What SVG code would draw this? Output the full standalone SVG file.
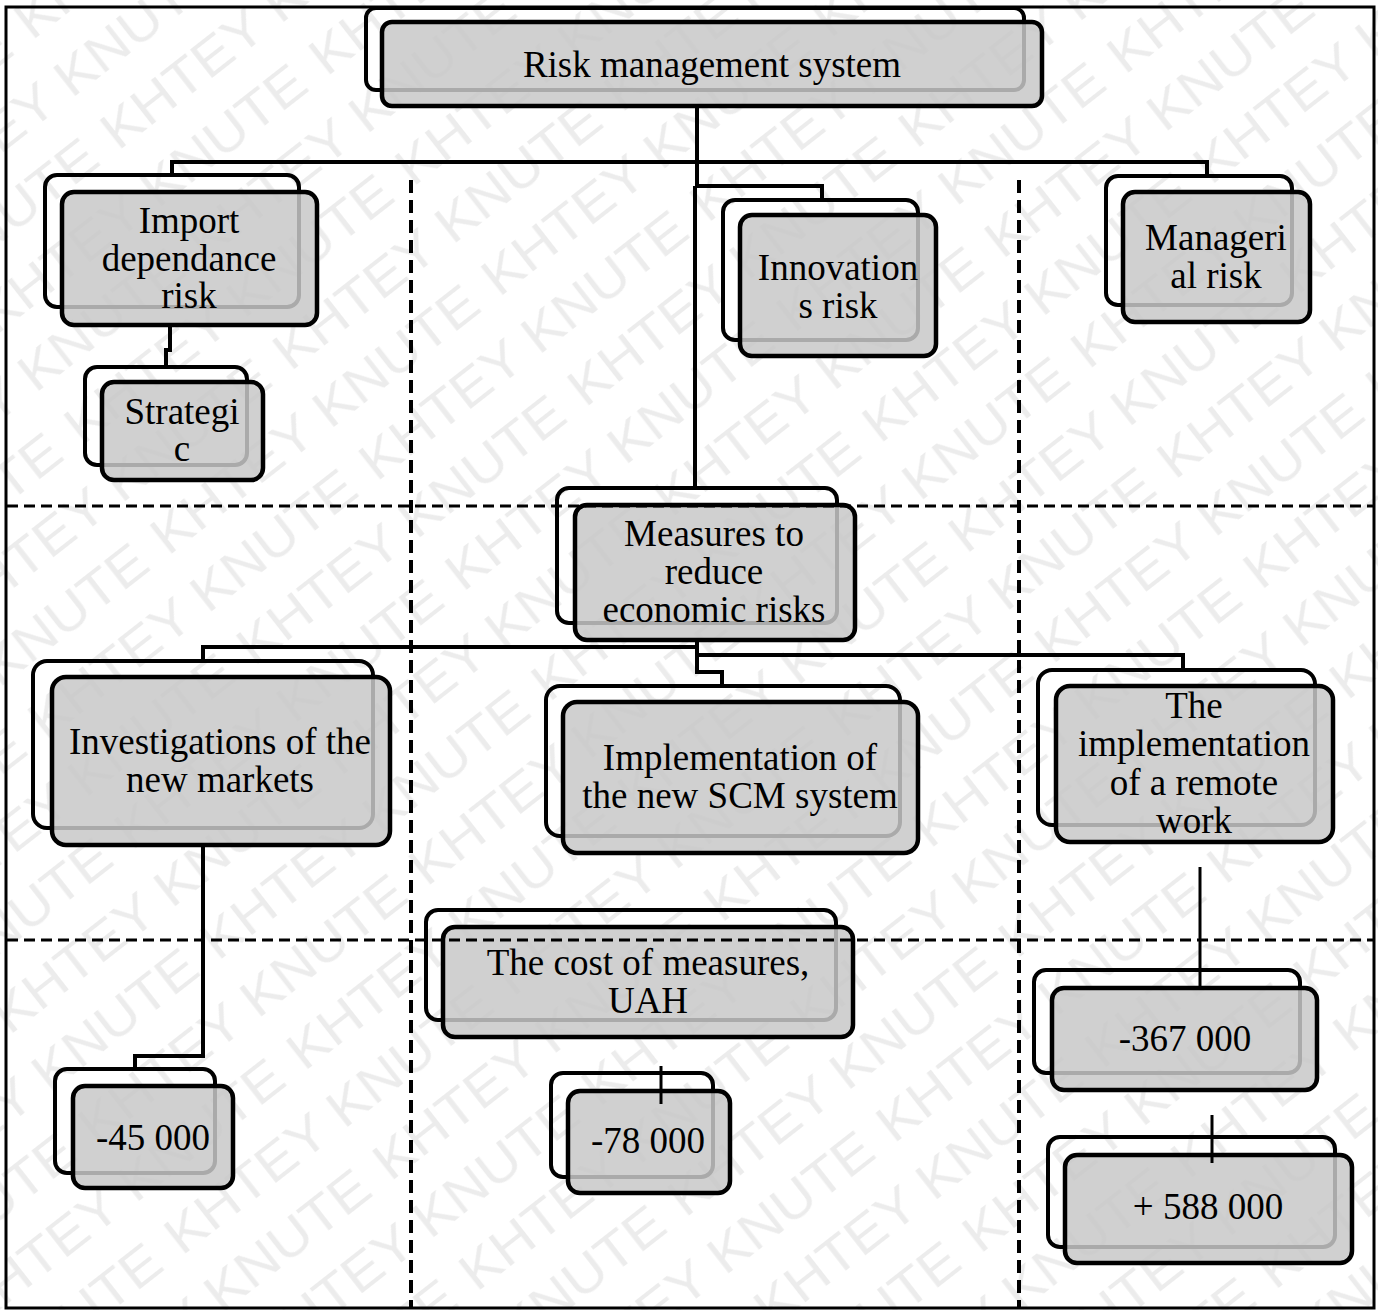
<svg xmlns="http://www.w3.org/2000/svg" width="1378" height="1310" viewBox="0 0 1378 1310">
<style>
.bk{fill:none;stroke:#000;stroke-width:4}
.fr{fill:#c8c8c8;fill-opacity:0.85;stroke:#000;stroke-width:4.5}
.t{font-family:"Liberation Serif","Times New Roman",serif;font-size:37px;text-anchor:middle;fill:#000}
.c{fill:none;stroke:#000;stroke-width:4}
.tk{fill:none;stroke:#000;stroke-width:3}
.dv{stroke:#000;stroke-width:4;stroke-dasharray:13 7}
.dh{stroke:#000;stroke-width:3;stroke-dasharray:11 6}
.wm{font-family:"Liberation Sans",Arial,sans-serif;font-size:52px;fill:#ececec}
</style>
<defs>
<pattern id="wmp" patternUnits="userSpaceOnUse" width="420" height="140" patternTransform="rotate(-38)">
<text class="wm" x="0" y="52" textLength="400" lengthAdjust="spacingAndGlyphs">KHTEY KNUTE</text>
<text class="wm" x="-210" y="122" textLength="400" lengthAdjust="spacingAndGlyphs">KHTEY KNUTE</text>
<text class="wm" x="210" y="122" textLength="400" lengthAdjust="spacingAndGlyphs">KHTEY KNUTE</text>
</pattern>
</defs>
<rect x="0" y="0" width="1378" height="1310" fill="#fff"/>
<rect id="watermark" x="0" y="0" width="1378" height="1310" fill="url(#wmp)"/>
<rect x="6" y="7" width="1368" height="1301" fill="none" stroke="#000" stroke-width="3"/>

<g id="n-risk-management">
<rect class="bk" x="366" y="8" width="658" height="82" rx="10"/>
<rect class="fr" x="382" y="22" width="660" height="84" rx="10"/>
<text class="t" x="712" y="77">Risk management system</text>
</g>
<g id="n-import">
<rect class="bk" x="45" y="175" width="254" height="132" rx="12"/>
<rect class="fr" x="62" y="192" width="255" height="133" rx="12"/>
<text class="t" x="189" y="233">Import</text>
<text class="t" x="189" y="271">dependance</text>
<text class="t" x="189" y="308">risk</text>
</g>
<g id="n-strategic">
<rect class="bk" x="85" y="367" width="162" height="98" rx="12"/>
<rect class="fr" x="102" y="382" width="161" height="98" rx="12"/>
<text class="t" x="182" y="424">Strategi</text>
<text class="t" x="182" y="461">c</text>
</g>
<g id="n-innovations">
<rect class="bk" x="723" y="200" width="195" height="140" rx="12"/>
<rect class="fr" x="740" y="215" width="196" height="141" rx="12"/>
<text class="t" x="838" y="280">Innovation</text>
<text class="t" x="838" y="318">s risk</text>
</g>
<g id="n-managerial">
<rect class="bk" x="1106" y="176" width="186" height="129" rx="12"/>
<rect class="fr" x="1123" y="192" width="187" height="130" rx="12"/>
<text class="t" x="1216" y="250">Manageri</text>
<text class="t" x="1216" y="288">al risk</text>
</g>
<g id="n-measures">
<rect class="bk" x="557" y="488" width="280" height="135" rx="12"/>
<rect class="fr" x="575" y="505" width="280" height="135" rx="12"/>
<text class="t" x="714" y="546">Measures to</text>
<text class="t" x="714" y="584">reduce</text>
<text class="t" x="714" y="622">economic risks</text>
</g>
<g id="n-investigations">
<rect class="bk" x="33" y="661" width="340" height="167" rx="14"/>
<rect class="fr" x="52" y="677" width="338" height="168" rx="14"/>
<text class="t" x="220" y="754">Investigations of the</text>
<text class="t" x="220" y="792">new markets</text>
</g>
<g id="n-scm">
<rect class="bk" x="546" y="686" width="354" height="150" rx="14"/>
<rect class="fr" x="563" y="702" width="355" height="151" rx="14"/>
<text class="t" x="740" y="770">Implementation of</text>
<text class="t" x="740" y="808">the new SCM system</text>
</g>
<g id="n-remote">
<rect class="bk" x="1038" y="670" width="277" height="155" rx="14"/>
<rect class="fr" x="1056" y="686" width="277" height="156" rx="14"/>
<text class="t" x="1194" y="718">The</text>
<text class="t" x="1194" y="756">implementation</text>
<text class="t" x="1194" y="795">of a remote</text>
<text class="t" x="1194" y="833">work</text>
</g>
<g id="n-cost">
<rect class="bk" x="426" y="910" width="410" height="110" rx="12"/>
<rect class="fr" x="443" y="927" width="410" height="110" rx="12"/>
<text class="t" x="648" y="975">The cost of measures,</text>
<text class="t" x="648" y="1013">UAH</text>
</g>
<g id="n-45000">
<rect class="bk" x="55" y="1069" width="160" height="104" rx="12"/>
<rect class="fr" x="73" y="1086" width="160" height="102" rx="12"/>
<text class="t" x="153" y="1150">-45 000</text>
</g>
<g id="n-78000">
<rect class="bk" x="551" y="1073" width="162" height="104" rx="12"/>
<rect class="fr" x="568" y="1091" width="162" height="102" rx="12"/>
<text class="t" x="648" y="1153">-78 000</text>
</g>
<g id="n-367000">
<rect class="bk" x="1034" y="970" width="266" height="103" rx="12"/>
<rect class="fr" x="1052" y="988" width="265" height="102" rx="12"/>
<text class="t" x="1185" y="1051">-367 000</text>
</g>
<g id="n-588000">
<rect class="bk" x="1048" y="1137" width="287" height="110" rx="12"/>
<rect class="fr" x="1065" y="1155" width="287" height="108" rx="12"/>
<text class="t" x="1208" y="1219">+ 588 000</text>
</g>

<g id="connectors">
<path class="c" d="M697,106 V162"/>
<path class="c" d="M172,176 V162 H1207 V176"/>
<path class="c" d="M697,162 V186 H822 V200"/>
<path class="c" d="M695,186 V488"/>
<path class="c" d="M170,325 V350 H166 V367"/>
<path class="c" d="M697,640 V672 H722 V686"/>
<path class="c" d="M203,661 V647 H697"/>
<path class="c" d="M697,655 H1183 V670"/>
<path class="c" d="M203,845 V1056 H135 V1069"/>
<path class="tk" d="M1200,867 V988"/>
<path class="tk" d="M661,1066 V1104"/>
<path class="tk" d="M1212,1115 V1163"/>
</g>
<g id="dividers">
<line class="dv" x1="411" y1="180" x2="411" y2="1308"/>
<line class="dv" x1="1019" y1="180" x2="1019" y2="1308"/>
<line class="dh" x1="7" y1="506" x2="1374" y2="506"/>
<line class="dh" x1="7" y1="940" x2="1374" y2="940"/>
</g>
</svg>
